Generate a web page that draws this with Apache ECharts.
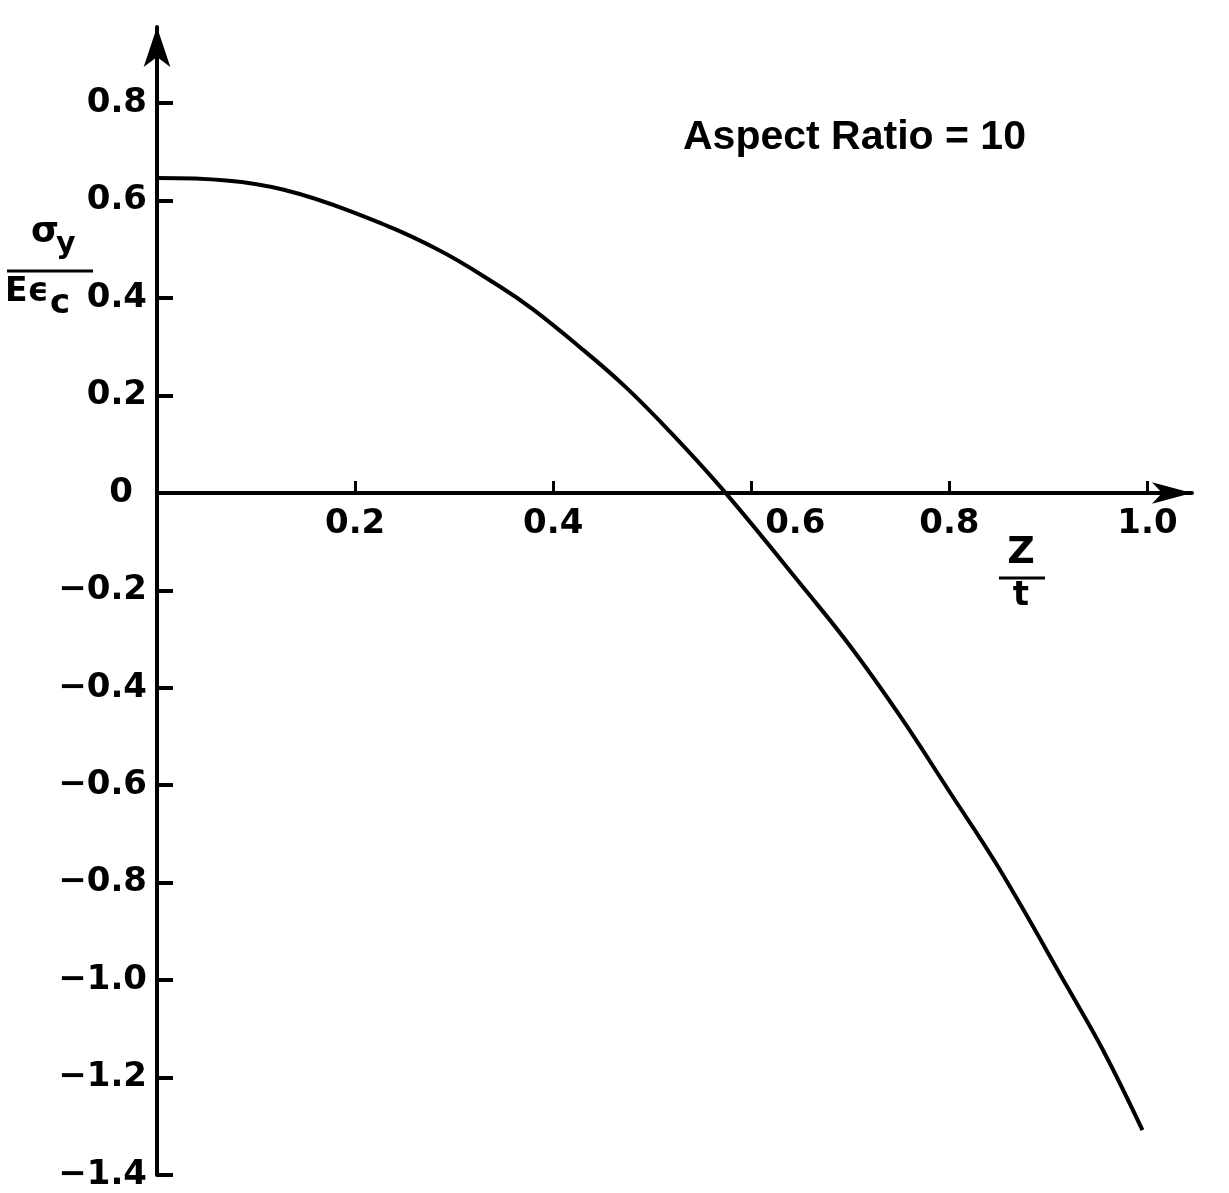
<!DOCTYPE html>
<html><head><meta charset="utf-8">
<script src="https://cdn.jsdelivr.net/npm/echarts@6/dist/echarts.min.js"></script>
<style>html,body{margin:0;padding:0;background:#fff}#c{width:1229px;height:1193px}</style>
</head><body><div id="c"></div>
<script>
// Z/t values and sigma_y/(E eps_c) values
const zValues = [0, 0.07, 0.128, 0.195, 0.281, 0.3465, 0.38, 0.424, 0.4727, 0.52, 0.574, 0.6545, 0.70, 0.7505, 0.801, 0.85, 0.9205, 0.956, 0.995];
const stressValues = [0.646, 0.641, 0.622, 0.578, 0.502, 0.423, 0.376, 0.304, 0.218, 0.121, 0, -0.199, -0.315, -0.459, -0.616, -0.770, -1.019, -1.147, -1.308];

const xTicks = [0.2, 0.4, 0.6, 0.8, 1.0];
const xTickLabels = ['0.2', '0.4', '0.6', '0.8', '1.0'];
const yTicks = [-1.4, -1.2, -1.0, -0.8, -0.6, -0.4, -0.2, 0, 0.2, 0.4, 0.6, 0.8];
const yTickLabels = ['\u22121.4', '\u22121.2', '\u22121.0', '\u22120.8', '\u22120.6', '\u22120.4', '\u22120.2', '0', '0.2', '0.4', '0.6', '0.8'];
const annotation = 'Aspect Ratio = 10';

const FONT = 'DejaVu Sans';
function lookup(ticks, labels, v) {
  for (let i = 0; i < ticks.length; i++) if (Math.abs(ticks[i] - v) < 1e-6) return labels[i];
  return '';
}
const labelStyle = { fontFamily: FONT, fontWeight: 'bold', fontSize: 34, color: '#000' };
function txt(text, x, y, size, align) {
  return { type: 'text', x: x, y: y, style: { text: text, fontFamily: FONT, fontWeight: 'bold', fontSize: size, fill: '#000', align: align || 'left', verticalAlign: 'middle' } };
}

const chart = echarts.init(document.getElementById('c'), null, { renderer: 'canvas' });
chart.setOption({
  backgroundColor: '#fff',
  animation: false,
  grid: { left: 157, right: 37, top: 27, bottom: 18, outerBoundsMode: 'none', containLabel: false },
  xAxis: {
    type: 'value', min: 0, max: 1.045,
    position: 'bottom', offset: -682,
    axisLine: { onZero: false, symbol: ['none', 'arrow'], symbolSize: [16, 40], lineStyle: { color: '#000', width: 4 } },
    axisTick: { show: true, inside: true, length: 12, customValues: xTicks, lineStyle: { color: '#000', width: 3 } },
    axisLabel: {
      customValues: xTicks, margin: 14, hideOverlap: false,
      formatter: v => {
        const t = lookup(xTicks, xTickLabels, v);
        if (!t) return '';
        return Math.abs(v - 0.6) < 1e-6 ? '{s|' + t + '}' : '{n|' + t + '}';
      },
      rich: {
        n: Object.assign({}, labelStyle),
        s: Object.assign({ padding: [0, 0, 0, 88] }, labelStyle)
      }
    },
    splitLine: { show: false }
  },
  yAxis: {
    type: 'value', min: -1.4, max: 0.956,
    axisLine: { onZero: false, symbol: ['none', 'arrow'], symbolSize: [20, 40], lineStyle: { color: '#000', width: 4 } },
    axisTick: { show: true, inside: true, length: 16, customValues: yTicks, lineStyle: { color: '#000', width: 4 } },
    axisLabel: {
      customValues: yTicks, margin: 10, hideOverlap: false,
      formatter: v => {
        const t = lookup(yTicks, yTickLabels, v);
        if (!t) return '';
        return Math.abs(v) < 1e-6 ? '{z|' + t + '}' : '{n|' + t + '}';
      },
      rich: {
        n: Object.assign({}, labelStyle),
        z: Object.assign({ padding: [0, 14, 0, 0] }, labelStyle)
      }
    },
    splitLine: { show: false }
  },
  series: [{
    type: 'line',
    data: zValues.map((z, i) => [z, stressValues[i]]),
    smooth: 0.4,
    showSymbol: false,
    symbol: 'none',
    lineStyle: { color: '#000', width: 4 },
    z: 5
  }],
  graphic: [
    { type: 'text', left: 683, top: 117, style: { text: annotation, fontFamily: 'Liberation Sans', fontWeight: 'bold', fontSize: 41, fill: '#000' } },
    // y-axis title: sigma_y / (E eps_c)
    txt('\u03c3', 45, 233, 36, 'center'),
    txt('y', 56, 245, 30),
    { type: 'line', shape: { x1: 7, y1: 271, x2: 93, y2: 271 }, style: { stroke: '#000', lineWidth: 3 } },
    txt('E\u03f5', 5, 292, 33),
    txt('c', 50, 304, 34),
    // x-axis title: Z / t
    txt('Z', 1021, 553, 38, 'center'),
    { type: 'line', shape: { x1: 999, y1: 578, x2: 1045, y2: 578 }, style: { stroke: '#000', lineWidth: 3 } },
    txt('t', 1021, 596, 34, 'center')
  ]
});
</script>
</body></html>
